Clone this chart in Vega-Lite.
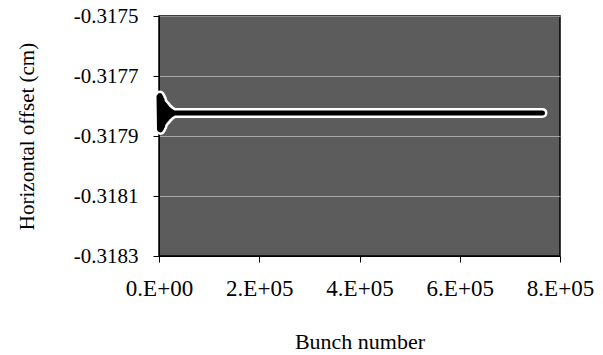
{
  "$schema": "https://vega.github.io/schema/vega-lite/v6.json",
  "width": 401,
  "height": 240,
  "autosize": {"type": "none"},
  "padding": {"left": 159, "top": 16, "right": 43, "bottom": 99},
  "background": "white",
  "config": {
    "view": {"fill": "#5c5c5c", "stroke": "black", "strokeWidth": 1.5},
    "font": "Liberation Serif",
    "axis": {
      "domainColor": "black",
      "tickColor": "black",
      "labelColor": "black",
      "titleColor": "black",
      "labelFont": "Liberation Serif",
      "titleFont": "Liberation Serif",
      "titleFontWeight": "normal",
      "labelFontSize": 21,
      "titleFontSize": 21,
      "tickSize": 6,
      "labelFlush": false,
      "labelOverlap": false
    }
  },
  "data": {
    "values": [
      {"bunch": 0, "offset": -0.317768},
      {"bunch": 1000, "offset": -0.317878},
      {"bunch": 2000, "offset": -0.317765},
      {"bunch": 3000, "offset": -0.31788},
      {"bunch": 4000, "offset": -0.317771},
      {"bunch": 5000, "offset": -0.317875},
      {"bunch": 6000, "offset": -0.317778},
      {"bunch": 7000, "offset": -0.317868},
      {"bunch": 8000, "offset": -0.317788},
      {"bunch": 9000, "offset": -0.317858},
      {"bunch": 10000, "offset": -0.317793},
      {"bunch": 11000, "offset": -0.317853},
      {"bunch": 12000, "offset": -0.317797},
      {"bunch": 13000, "offset": -0.317849},
      {"bunch": 14000, "offset": -0.317801},
      {"bunch": 15000, "offset": -0.317845},
      {"bunch": 16000, "offset": -0.317805},
      {"bunch": 17000, "offset": -0.317841},
      {"bunch": 18000, "offset": -0.317809},
      {"bunch": 19000, "offset": -0.317837},
      {"bunch": 20000, "offset": -0.317812},
      {"bunch": 21000, "offset": -0.317834},
      {"bunch": 22000, "offset": -0.317815},
      {"bunch": 23000, "offset": -0.317831},
      {"bunch": 24000, "offset": -0.317817},
      {"bunch": 25000, "offset": -0.317829},
      {"bunch": 26000, "offset": -0.317819},
      {"bunch": 27000, "offset": -0.317827},
      {"bunch": 28000, "offset": -0.317821},
      {"bunch": 29000, "offset": -0.317825},
      {"bunch": 30000, "offset": -0.317823},
      {"bunch": 100000, "offset": -0.317823},
      {"bunch": 200000, "offset": -0.317823},
      {"bunch": 300000, "offset": -0.317823},
      {"bunch": 400000, "offset": -0.317823},
      {"bunch": 500000, "offset": -0.317823},
      {"bunch": 600000, "offset": -0.317823},
      {"bunch": 700000, "offset": -0.317823},
      {"bunch": 765000, "offset": -0.317823}
    ]
  },
  "encoding": {
    "x": {
      "field": "bunch",
      "type": "quantitative",
      "scale": {"domain": [0, 800000], "nice": false, "zero": false},
      "axis": {
        "values": [0, 200000, 400000, 600000, 800000],
        "labelExpr": "datum.value == 0 ? '0.E+00' : (datum.value / 100000) + '.E+05'",
        "labelFontSize": 23,
        "labelPadding": 15,
        "grid": false,
        "title": "Bunch number",
        "titleFontSize": 22,
        "titleY": 75,
        "titleBaseline": "top"
      }
    },
    "y": {
      "field": "offset",
      "type": "quantitative",
      "scale": {"domain": [-0.3183, -0.3175], "nice": false, "zero": false},
      "axis": {
        "values": [-0.3175, -0.3177, -0.3179, -0.3181, -0.3183],
        "labelExpr": "'-' + format(-datum.value, '.4f')",
        "labelPadding": 15,
        "grid": true,
        "gridColor": "#d8d8d8",
        "gridOpacity": 0.6,
        "gridWidth": 1,
        "title": "Horizontal offset (cm)",
        "titleX": -122,
        "titleY": 120
      }
    }
  },
  "layer": [
    {"mark": {"type": "line", "color": "white", "strokeWidth": 10, "strokeCap": "round", "strokeJoin": "round"}},
    {"mark": {"type": "line", "color": "black", "strokeWidth": 5, "strokeCap": "round", "strokeJoin": "round"}}
  ]
}
